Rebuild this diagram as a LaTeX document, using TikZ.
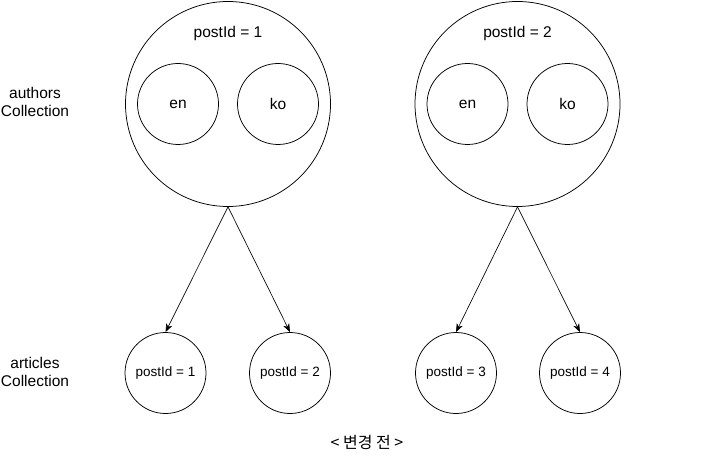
\documentclass[tikz,border=0pt]{standalone}
\usepackage{fontspec}
\setmainfont{Liberation Sans}
\newfontfamily\krfont{Noto Sans CJK KR}
\usetikzlibrary{positioning, arrows.meta}
\tikzset{
    coll/.style={circle, draw, line width=0.75pt, minimum size=205pt, inner sep=0pt}, % one document of authors
    lang/.style={circle, draw, line width=0.75pt, minimum size=81pt, inner sep=0pt},
    doc/.style={circle, draw, line width=0.75pt, minimum size=81pt, inner sep=0pt, font=\fontsize{13.5}{16}\selectfont},
    tag/.style={align=center},
}
\tikzstyle{link} = [line width=0.65pt, -{Stealth[length=8.5pt, width=6.5pt, inset=2.5pt]}]

\begin{document}
\begin{tikzpicture}[x=1pt, y=-1pt, on grid, font=\fontsize{15.5}{18.5}\selectfont]
                \useasboundingbox (0,0) rectangle (701,457);

                % authors
                \node[coll] (a1) at (228,104) {};
                \node[coll] (a2) at (517.5,104) {};
                \node (t1) [above=71pt of a1] {postId = 1};
                \node (t2) [above=71pt of a2] {postId = 2};
                \node[lang] (en1) [left=50pt of a1] {en};
                \node[lang] (ko1) [right=50pt of a1] {ko};
                \node[lang] (en2) [left=50pt of a2] {en};
                \node[lang] (ko2) [right=50pt of a2] {ko};

                % articles
                \node[doc] (p1) [below left=269pt and 62.5pt of a1] {postId = 1};
                \node[doc] (p2) [below right=269pt and 62pt of a1] {postId = 2};
                \node[doc] (p3) [below left=269pt and 61.5pt of a2] {postId = 3};
                \node[doc] (p4) [below right=269pt and 62.5pt of a2] {postId = 4};

                % Etichette
                \node[tag] (auth) at (35,102) {authors\\Collection};
                \node[tag] (art) at (35,372) {articles\\Collection};
                \node (cap) at (367,442) {\krfont\fontsize{16}{19}\selectfont < 변경 전 >};

                % Collegamenti
                \draw[link] (a1.south) -- (p1.north);
                \draw[link] (a1.south) -- (p2.north);
                \draw[link] (a2.south) -- (p3.north);
                \draw[link] (a2.south) -- (p4.north);

            \end{tikzpicture}
\end{document}
